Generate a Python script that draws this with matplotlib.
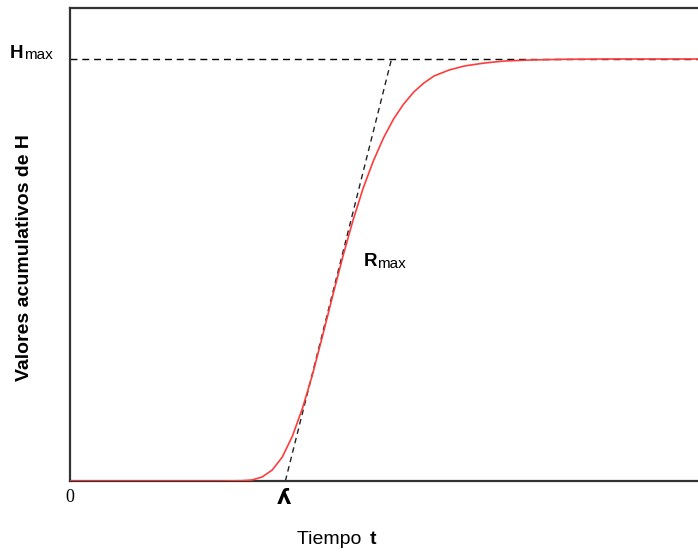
import matplotlib
matplotlib.use("Agg")
import matplotlib.pyplot as plt

# Curve (time units, cumulative H units)
t_vals = [0, 150, 170, 180, 190, 200, 210, 220, 230, 240, 250, 260, 270, 280,
          290, 300, 310, 320, 330, 340, 350, 360, 375, 390, 410, 430, 455,
          490, 530, 628]
h_vals = [0, 0, 0.3, 1, 4, 11, 24, 45, 73, 107, 146, 186, 225, 261,
          293, 320, 343, 362, 377, 389, 398, 405, 411, 415, 418, 420, 421,
          421.7, 422, 422]

H_max = 422
lag_lambda = 213
R_max = 422 / 105
t_max = 628
y_top = 473

fig = plt.figure(figsize=(6.98, 5.57), dpi=100)
ax = fig.add_axes([70/698, (557-481)/557, 628/698 + 0.01, 473/557])
ax.set_xlim(0, t_max)
ax.set_ylim(0, y_top)

ax.plot(t_vals, h_vals, color="#ff3c3c", lw=1.2, zorder=3, solid_joinstyle="round")
ax.plot([0, t_max], [H_max, H_max], color="black", lw=1.0, ls=(0, (5, 3.5)), zorder=2)
t_end = lag_lambda + H_max / R_max
ax.plot([lag_lambda, t_end], [0, H_max], color="#222222", lw=1.0, ls=(0, (4, 3)), zorder=2)

for s in ["left", "bottom", "top"]:
    ax.spines[s].set_color("#333333")
    ax.spines[s].set_linewidth(1.6)
ax.spines["right"].set_visible(False)
ax.set_xticks([])
ax.set_yticks([])

sans = ["Liberation Sans", "DejaVu Sans"]
fig.text(25/698, 1 - 258/557, "Valores acumulativos de H", rotation=90,
         ha="center", va="center", fontsize=14, fontweight="bold", family=sans)
fig.text(297/698, 1 - 540/557, "Tiempo ", ha="left", va="center", fontsize=14, family=sans)
fig.text(370/698, 1 - 540/557, "t", ha="left", va="center", fontsize=14, fontweight="bold", family=sans)

fig.text(10/698, 1 - 53/557, "H", ha="left", va="center", fontsize=13.5, fontweight="bold", family=sans)
fig.text(24/698, 1 - 55/557, "max", ha="left", va="center", fontsize=11, family=sans)
fig.text(364/698, 1 - 262/557, "R", ha="left", va="center", fontsize=13.5, fontweight="bold", family=sans)
fig.text(377/698, 1 - 264/557, "max", ha="left", va="center", fontsize=11, family=sans)

fig.text(70/698, 1 - 498/557, "0", ha="center", va="center", fontsize=13, family=["Liberation Serif", "DejaVu Serif"])
fig.text(284/698, 1 - 498/557, "ʎ", ha="center", va="center", fontsize=16, fontweight="bold", family=["DejaVu Sans"])

fig.savefig("out.png", dpi=100)
